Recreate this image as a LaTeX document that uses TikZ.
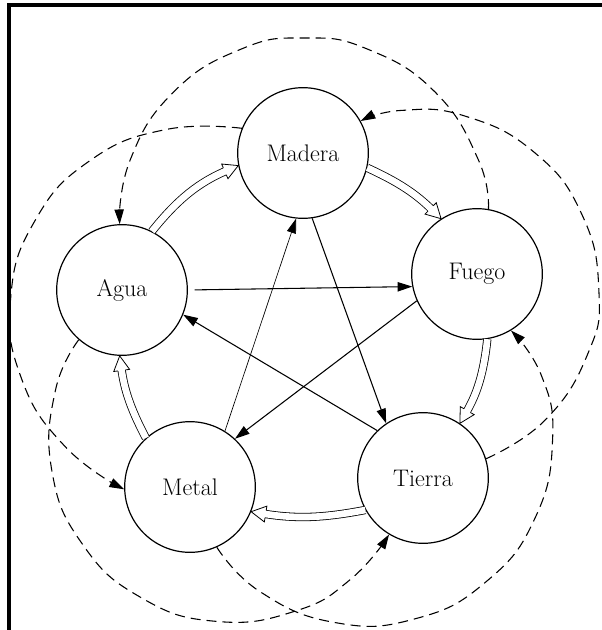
\documentclass[tikz,border=0pt]{standalone}
\usetikzlibrary{arrows.meta,decorations.markings}
\begin{document}
\begin{tikzpicture}[x=0.75pt,y=-0.75pt,
  elem/.style={circle,draw,line width=0.9pt,minimum size=98pt,inner sep=0pt,fill=white,
    font=\fontsize{18}{21}\selectfont},
  ctrl/.style={line width=0.8pt,-{Triangle[length=11pt,width=7pt]}},
  thinctrl/.style={ctrl,line width=0.5pt},
  insult/.style={line width=0.8pt,dash pattern=on 7.5pt off 4.5pt,
    -{Triangle[length=11pt,width=7pt]}},
  arcplot/.style={smooth,tension=0.8},
  gen/.style={preaction={draw,line width=0.6pt,double,double distance=5pt,shorten >=9.5pt},
    postaction={decorate},
    decoration={markings,mark=at position 1 with {
      \fill[white] (0pt,0pt)--(-11pt,6pt)--(-11pt,-6pt)--cycle;
      \draw[line width=0.6pt,line join=miter]
        (-11pt,2.8pt)--(-11pt,6pt)--(0pt,0pt)--(-11pt,-6pt)--(-11pt,-2.8pt);}}},
  frameline/.style={line width=3pt}
]
\useasboundingbox (0,0) rectangle (601,630);

% nodes
\node[elem] (madera) at (303,153) {Madera};
\node[elem] (agua)   at (122,290) {Agua};
\node[elem] (fuego)  at (477,274) {Fuego};
\node[elem] (metal)  at (190,487) {Metal};
\node[elem] (tierra) at (423,478) {Tierra};

% dashed arcs
\draw[insult] plot[arcplot] coordinates {(madera.158) (164.5,129.8) (89.7,160.8) (35.1,220.5) (10.7,297.7) (21.3,378.0) (64.8,446.2) (metal.182)};
\draw[insult] plot[arcplot] coordinates {(fuego.80) (478.4,159.9) (435.3,92.3) (367.7,49.2) (304.3,38) (240.9,49.2) (173.3,92.3) (130.2,159.9) (agua.92)};
\draw[insult] plot[arcplot] coordinates {(tierra.17) (545.7,419.5) (588.0,353.3) (598.9,291.2) (581.9,214.5) (534.1,152.2) (464.4,115.9) (401.6,110.4) (madera.29)};
\draw[insult] plot[arcplot] coordinates {(metal.-66) (259.8,591.5) (334.2,622.4) (414.7,618.9) (486.1,581.7) (535.2,517.7) (552.6,439.1) (541.4,375.5) (fuego.-59)};
\draw[insult] plot[arcplot] coordinates {(agua.-131) (55.3,390.9) (51.8,470.3) (82.2,543.8) (140.9,597.5) (216.7,621.4) (295.5,611.0) (350.8,579.1) (tierra.-121)};

% generation cycle
\path[gen] (agua.63) to[bend left=14] (madera.191);
\path[gen] (madera.-13) to[bend left=10] (fuego.123);
\path[gen] (fuego.-81) to[bend left=12] (tierra.56);
\path[gen] (tierra.209) to[bend left=10] (metal.-22);
\path[gen] (metal.132) to[bend left=10] (agua.-92);

% control cycle
\draw[ctrl,shorten <=5pt] (agua.east) -- (fuego.191);
\draw[ctrl] (fuego.204) -- (metal.47);
\draw[thinctrl] (metal.58) -- (madera.264);
\draw[ctrl] (madera.-82) -- (tierra.124);
\draw[ctrl] (tierra.134) -- (agua.-22);

% frame
\draw[frameline] (9,632) -- (9,5) -- (603,5);
\end{tikzpicture}
\end{document}
